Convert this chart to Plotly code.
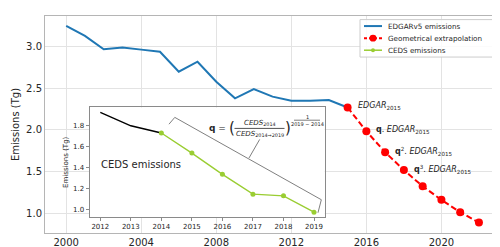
import plotly.graph_objects as go

# ---------------- data ----------------
edgar_years = list(range(2000, 2016))
edgar_vals = [3.25, 3.13, 2.97, 2.99, 2.965, 2.94, 2.70, 2.82, 2.58, 2.38,
              2.49, 2.40, 2.35, 2.35, 2.36, 2.27]

extrap_years = list(range(2015, 2023))
extrap_vals = [2.27, 1.985, 1.732, 1.518, 1.323, 1.16, 1.012, 0.887]
extrap_labels = ["<i>EDGAR</i><sub>2015</sub>",
                 "<b>q</b>. <i>EDGAR</i><sub>2015</sub>",
                 "<b>q</b><sup>2</sup>. <i>EDGAR</i><sub>2015</sub>",
                 "<b>q</b><sup>3</sup>. <i>EDGAR</i><sub>2015</sub>"]

ceds_hist_years = [2012, 2013, 2014]
ceds_hist_vals = [1.924, 1.797, 1.728]
ceds_years = [2014, 2015, 2016, 2017, 2018, 2019]
ceds_vals = [1.728, 1.537, 1.335, 1.146, 1.13, 0.975]

main_xticks = [2000, 2004, 2008, 2012, 2016, 2020]
main_yticks = [1.0, 1.5, 2.0, 2.5, 3.0]
inset_xticks = list(range(2012, 2020))
inset_yticks = [1.0, 1.2, 1.4, 1.6, 1.8]

BLUE = "#1f77b4"
RED = "#ff0000"
GREEN = "#9acd32"
TXT = "#262626"
FONT = "DejaVu Sans"

W, H = 500, 247
ML, MR, MT, MB = 37, 9, 7, 18
PW, PH = W - ML - MR, H - MT - MB


def px(x, y):
    return (x - ML) / PW, (H - MB - y) / PH


fig = go.Figure()

# main traces
fig.add_trace(go.Scatter(x=edgar_years, y=edgar_vals, mode="lines",
                         line=dict(color=BLUE, width=2), name="EDGARv5 emissions",
                         xaxis="x", yaxis="y", showlegend=False))
fig.add_trace(go.Scatter(x=extrap_years, y=extrap_vals, mode="lines+markers",
                         line=dict(color=RED, width=2, dash="6px,3px"),
                         marker=dict(color=RED, size=8), name="Geometrical extrapolation",
                         xaxis="x", yaxis="y", showlegend=False))

# inset traces
fig.add_trace(go.Scatter(x=ceds_hist_years, y=ceds_hist_vals, mode="lines",
                         line=dict(color="black", width=1.4),
                         xaxis="x2", yaxis="y2", showlegend=False))
fig.add_trace(go.Scatter(x=ceds_years, y=ceds_vals, mode="lines+markers",
                         line=dict(color=GREEN, width=1.4),
                         marker=dict(color=GREEN, size=5), name="CEDS emissions",
                         xaxis="x2", yaxis="y2", showlegend=False))

x0d, x1d = px(81.6, 0)[0], px(316.7, 0)[0]
y0d, y1d = px(0, 212.7)[1], px(0, 100.6)[1]

axis_common = dict(showline=True, mirror=True, zeroline=False)

fig.update_layout(
    width=W, height=H,
    margin=dict(l=ML, r=MR, t=MT, b=MB),
    paper_bgcolor="white", plot_bgcolor="white",
    font=dict(family=FONT, color=TXT, size=10),
    xaxis=dict(domain=[0, 1], range=[1998.87, 2023.07], tickvals=main_xticks,
               showgrid=True, gridcolor="#e3e3e3", gridwidth=1,
               linecolor="#b5b5b5", linewidth=1, ticks="",
               tickfont=dict(size=10), **axis_common),
    yaxis=dict(domain=[0, 1], range=[0.762, 3.369], tickvals=main_yticks,
               tickformat=".1f", showgrid=True, gridcolor="#e3e3e3", gridwidth=1,
               linecolor="#b5b5b5", linewidth=1, ticks="",
               tickfont=dict(size=10),
               title=dict(text="Emissions (Tg)", font=dict(size=10), standoff=4),
               **axis_common),
    xaxis2=dict(domain=[x0d, x1d], anchor="y2", range=[2011.65, 2019.35],
                tickvals=inset_xticks, showgrid=False, linecolor="#8a8a8a",
                linewidth=1, ticks="outside", ticklen=3, tickcolor="#8a8a8a",
                tickfont=dict(size=7), **axis_common),
    yaxis2=dict(domain=[y0d, y1d], anchor="x2", range=[0.928, 1.971],
                tickvals=inset_yticks, tickformat=".1f", showgrid=False,
                linecolor="#8a8a8a", linewidth=1, ticks="outside", ticklen=3,
                tickcolor="#8a8a8a", tickfont=dict(size=7),
                title=dict(text="Emissions (Tg)", font=dict(size=7), standoff=3),
                **axis_common),
)

annotations = []
shapes = []

# labels next to extrapolated points
for yr, v, lab in zip(extrap_years, extrap_vals, extrap_labels):
    annotations.append(dict(x=yr, y=v, xref="x", yref="y", text=lab, showarrow=False,
                            xanchor="left", yanchor="middle", xshift=8, yshift=1,
                            font=dict(size=8, color=TXT)))

# "CEDS emissions" text in inset
cx, cy = px(91, 159)
annotations.append(dict(x=cx, y=cy, xref="paper", yref="paper", text="CEDS emissions",
                        showarrow=False, xanchor="left", yanchor="middle",
                        font=dict(size=10, color=TXT)))

# bracket and pointer (inset data coordinates)
shapes.append(dict(type="path", xref="x2", yref="y2",
                   path="M 2014.25 1.812 L 2014.44 1.877 L 2019.24 1.093 L 2019.13 0.969",
                   line=dict(color="#808080", width=1)))
shapes.append(dict(type="line", xref="x2", yref="y2", x0=2016.87, y0=1.49,
                   x1=2017.22, y1=1.667, line=dict(color="#808080", width=1)))

# formula
def ann(xp, yp, text, size, anchor="center"):
    ax, ay = px(xp, yp)
    annotations.append(dict(x=ax, y=ay, xref="paper", yref="paper", text=text,
                            showarrow=False, xanchor=anchor, yanchor="middle",
                            borderpad=0, font=dict(size=size, color=TXT)))

ann(200, 122, "<b>q</b> =", 9, "left")
ann(223.5, 122, "(", 15)
ann(251.5, 116.2, "<i>CEDS</i><sub>2014</sub>", 7)
ann(251.5, 128, "<i>CEDS</i><sub>2014→2019</sub>", 7)
ann(279.5, 122, ")", 15)
ann(299, 110.5, "1", 5)
ann(299, 117.2, "2019 − 2014", 5)
fx0, fy = px(226.5, 122)
fx1, _ = px(276.5, 122)
shapes.append(dict(type="line", xref="paper", yref="paper", x0=fx0, x1=fx1, y0=fy, y1=fy,
                   line=dict(color=TXT, width=0.8)))
ex0, ey = px(286, 113.6)
ex1, _ = px(312, 113.6)
shapes.append(dict(type="line", xref="paper", yref="paper", x0=ex0, x1=ex1, y0=ey, y1=ey,
                   line=dict(color=TXT, width=0.6)))

# manual legend
lx0, ly0 = px(352, 10.7)
lx1, ly1 = px(489, 49)
shapes.append(dict(type="rect", xref="paper", yref="paper", x0=lx0, x1=lx1, y0=ly1, y1=ly0,
                   line=dict(color="#cccccc", width=1), fillcolor="rgba(255,255,255,0.85)",
                   layer="above"))
legend_items = [("EDGARv5 emissions", BLUE, "solid", 0),
                ("Geometrical extrapolation", RED, "dash", 7),
                ("CEDS emissions", GREEN, "solid", 4)]
rows = [17.3, 29.7, 42.0]
for (name, col, dash, msize), ry in zip(legend_items, rows):
    a0, b = px(356, ry)
    a1, _ = px(374, ry)
    shapes.append(dict(type="line", xref="paper", yref="paper", x0=a0, x1=a1, y0=b, y1=b,
                       line=dict(color=col, width=2 if msize != 4 else 1.5,
                                 dash="3px,2px" if dash == "dash" else "solid"),
                       layer="above"))
    if msize:
        r = msize / 2
        c0, d0 = px(365 - r, ry + r)
        c1, d1 = px(365 + r, ry - r)
        shapes.append(dict(type="circle", xref="paper", yref="paper", x0=c0, x1=c1,
                           y0=d0, y1=d1, fillcolor=col, line=dict(color=col, width=0),
                           layer="above"))
    tx, ty = px(378, ry)
    annotations.append(dict(x=tx, y=ty, xref="paper", yref="paper", text=name,
                            showarrow=False, xanchor="left", yanchor="middle",
                            font=dict(size=7.2, color=TXT)))

fig.update_layout(annotations=annotations, shapes=shapes)
fig.write_html("out.html")
